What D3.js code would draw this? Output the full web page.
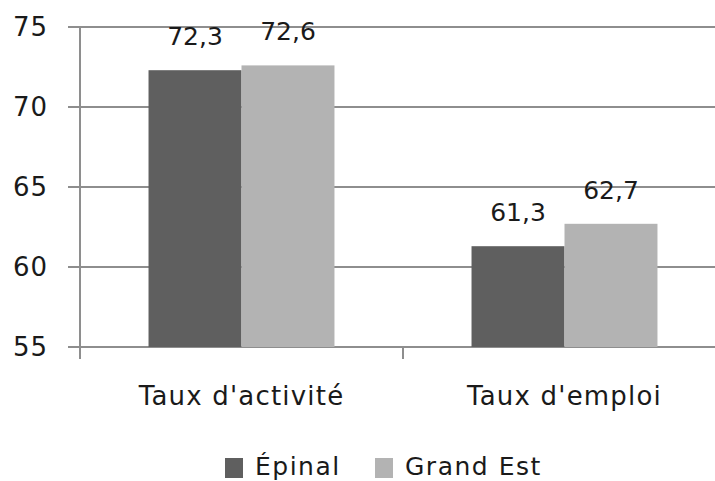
<!DOCTYPE html>
<html><head><meta charset="utf-8">
<script src="https://cdn.jsdelivr.net/npm/d3@7"></script>
<style>body{margin:0;background:#fff}svg{display:block}text{font-family:"DejaVu Sans",sans-serif;fill:#1a1a1a}</style>
</head><body>
<svg id="c" width="715" height="481"></svg>
<script>
const categories = ["Taux d'activité", "Taux d'emploi"];
const seriesNames = ["Épinal", "Grand Est"];
const epinal = [72.3, 61.3];
const grandEst = [72.6, 62.7];
const yTicks = [55, 60, 65, 70, 75];
const epinalLabels = ["72,3", "61,3"];
const grandEstLabels = ["72,6", "62,7"];
const colors = ["#5f5f5f", "#b3b3b3"];

const svg = d3.select("#c");
const x0 = d3.scaleBand().domain(categories).range([80, 726]).padding(0);
const x1 = d3.scaleBand().domain(seriesNames).range([0, x0.bandwidth()]).paddingInner(0).paddingOuter(0.737);
const y = d3.scaleLinear().domain([55, 75]).range([347, 27]);

// gridlines
svg.append("g").selectAll("line").data(yTicks).join("line")
  .attr("x1", 68).attr("x2", 715)
  .attr("y1", d => y(d)).attr("y2", d => y(d))
  .attr("stroke", "#8e8e8e").attr("stroke-width", 2);

// y tick labels
svg.append("g").selectAll("text").data(yTicks).join("text")
  .attr("x", 48).attr("y", d => y(d)).attr("dy", "0.36em")
  .attr("text-anchor", "end").attr("font-size", 26).attr("letter-spacing", 1).text(d => d);

// bars
const data = seriesNames.map((s, i) => ({name: s, values: i === 0 ? epinal : grandEst, labels: i === 0 ? epinalLabels : grandEstLabels, color: colors[i]}));
const g = svg.append("g");
data.forEach(s => {
  categories.forEach((c, j) => {
    const v = s.values[j];
    const bx = x0(c) + x1(s.name);
    g.append("rect").attr("x", bx).attr("y", y(v)).attr("width", x1.bandwidth())
      .attr("height", y(55) - y(v)).attr("fill", s.color);
    g.append("text").attr("x", bx + x1.bandwidth() / 2).attr("y", y(v) - 25)
      .attr("text-anchor", "middle").attr("font-size", 25).text(s.labels[j]);
  });
});

// axes lines
svg.append("line").attr("x1", 80).attr("x2", 80).attr("y1", y(75)).attr("y2", 359)
  .attr("stroke", "#8e8e8e").attr("stroke-width", 2);
svg.append("g").selectAll("line").data(categories.slice(1)).join("line")
  .attr("x1", d => x0(d)).attr("x2", d => x0(d)).attr("y1", y(55)).attr("y2", 359)
  .attr("stroke", "#8e8e8e").attr("stroke-width", 2);

// category labels
svg.append("g").selectAll("text").data(categories).join("text")
  .attr("x", d => x0(d) + x0.bandwidth() / 2).attr("y", 405)
  .attr("text-anchor", "middle").attr("font-size", 26).attr("letter-spacing", 1.2).text(d => d);

// legend
const legX = [225, 375];
const leg = svg.append("g");
data.forEach((s, i) => {
  leg.append("rect").attr("x", legX[i]).attr("y", 458).attr("width", 18).attr("height", 20).attr("fill", s.color);
  leg.append("text").attr("x", legX[i] + 30).attr("y", 475).attr("font-size", 25).attr("letter-spacing", 1.5).text(s.name);
});
</script>
</body></html>
